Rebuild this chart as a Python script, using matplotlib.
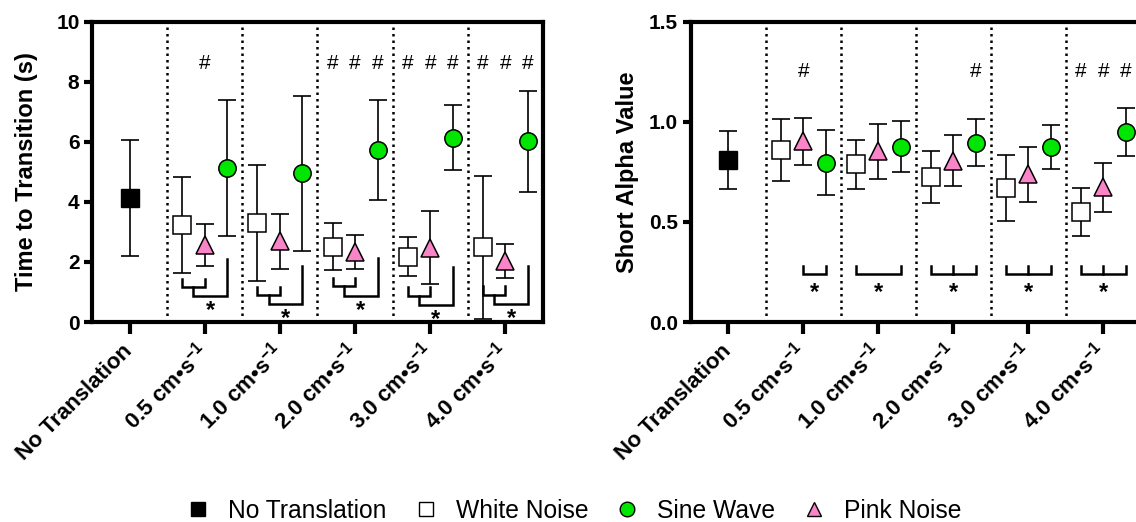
import numpy as np
import matplotlib
matplotlib.use('Agg')
import matplotlib.pyplot as plt
from matplotlib.lines import Line2D

plt.rcParams['font.family'] = ['Liberation Sans', 'DejaVu Sans']
plt.rcParams['mathtext.fontset'] = 'custom'
plt.rcParams['mathtext.rm'] = 'Liberation Sans:bold'
plt.rcParams['mathtext.it'] = 'Liberation Sans:bold:italic'
plt.rcParams['mathtext.bf'] = 'Liberation Sans:bold'

# x categories
speeds = ['0.5', '1.0', '2.0', '3.0', '4.0']
tick_labels = ['No Translation'] + [s + r' cm•s$^{-1}$' for s in speeds]
series_names = ['No Translation', 'White Noise', 'Sine Wave', 'Pink Noise']

# Time to transition (s), mean and SD
tt_none_mean, tt_none_sd = 4.13, 1.92
tt_white_mean = [3.23, 3.29, 2.51, 2.17, 2.49]
tt_white_sd = [1.59, 1.94, 0.78, 0.65, 2.38]
tt_pink_mean = [2.57, 2.69, 2.32, 2.48, 2.03]
tt_pink_sd = [0.71, 0.92, 0.57, 1.23, 0.56]
tt_sine_mean = [5.14, 4.95, 5.73, 6.14, 6.02]
tt_sine_sd = [2.26, 2.58, 1.67, 1.08, 1.68]

# Short alpha value, mean and SD
sa_none_mean, sa_none_sd = 0.809, 0.143
sa_white_mean = [0.861, 0.788, 0.724, 0.669, 0.550]
sa_white_sd = [0.155, 0.122, 0.128, 0.167, 0.118]
sa_pink_mean = [0.903, 0.852, 0.805, 0.738, 0.673]
sa_pink_sd = [0.117, 0.136, 0.127, 0.137, 0.122]
sa_sine_mean = [0.796, 0.876, 0.895, 0.872, 0.949]
sa_sine_sd = [0.163, 0.127, 0.118, 0.110, 0.122]

# significance marks (series index: 0 white, 1 pink, 2 sine)
tt_hash = [[1], [], [0, 1, 2], [0, 1, 2], [0, 1, 2]]
sa_hash = [[1], [], [2], [], [0, 1, 2]]
tt_hash_y, sa_hash_y = 8.64, 1.259
# left brackets: small top, small bottom, big bottom, big right top, star y
tt_brackets = [(1.44, 1.16, 0.85, 2.11, 0.61),
               (1.18, 0.89, 0.59, 1.86, 0.33),
               (1.47, 1.20, 0.86, 2.14, 0.61),
               (1.16, 0.86, 0.55, 1.83, 0.30),
               (1.20, 0.91, 0.59, 1.86, 0.33)]
# right brackets: from series, to series, middle tick
sa_brackets = [(1, 2, False), (0, 2, False), (0, 2, True), (0, 2, True), (0, 2, True)]
sa_br_top, sa_br_bot, sa_star_y = 0.279, 0.238, 0.183

offs = [-0.3, 0.0, 0.3]
pink = '#f984c8'
green = '#00e600'
ms = 12.5


def draw_panel(ax, none_m, none_sd, means, sds):
    ax.errorbar([0], [none_m], yerr=[none_sd], fmt='none', ecolor='k',
                elinewidth=1.2, capsize=6.5, capthick=1.2, zorder=2)
    ax.plot([0], [none_m], 's', ms=ms, mfc='k', mec='k', zorder=3)
    styles = [('s', 'white'), ('^', pink), ('o', green)]
    x = np.arange(1, 6)
    for (m, c), vals, err, off in zip(styles, means, sds, offs):
        ax.errorbar(x + off, vals, yerr=err, fmt='none', ecolor='k',
                    elinewidth=1.2, capsize=6.5, capthick=1.2, zorder=2)
        ax.plot(x + off, vals, m, ms=ms, mfc=c, mec='k', mew=1.1, ls='none', zorder=3)
    for b in np.arange(0.5, 5, 1):
        ax.axvline(b, color='k', ls=(0, (1, 1.6)), lw=1.8, zorder=1)
    ax.set_xlim(-0.5, 5.5)
    ax.set_xticks(range(6))
    ax.set_xticklabels(tick_labels, rotation=45, ha='right', va='center',
                       rotation_mode='anchor', fontsize=16, fontweight='bold')
    for s in ax.spines.values():
        s.set_linewidth(3)
    ax.tick_params(axis='x', length=8.5, width=3, pad=10)
    ax.tick_params(axis='y', length=6, width=3, pad=3, labelsize=15)
    for t in ax.get_yticklabels():
        t.set_fontweight('bold')


fig = plt.figure(figsize=(11.36, 5.22), dpi=100)
ax1 = fig.add_axes([92 / 1136, 200 / 522, 451 / 1136, 300.3 / 522])
ax2 = fig.add_axes([690.7 / 1136, 200 / 522, 450 / 1136, 300.3 / 522])

draw_panel(ax1, tt_none_mean, tt_none_sd,
           [tt_white_mean, tt_pink_mean, tt_sine_mean],
           [tt_white_sd, tt_pink_sd, tt_sine_sd])
ax1.set_ylim(0, 10)
ax1.set_yticks([0, 2, 4, 6, 8, 10])
ax1.set_yticklabels(['0', '2', '4', '6', '8', '10'], fontweight='bold', fontsize=15)
ax1.set_ylabel('Time to Transition (s)', fontsize=17, fontweight='bold', labelpad=13)

draw_panel(ax2, sa_none_mean, sa_none_sd,
           [sa_white_mean, sa_pink_mean, sa_sine_mean],
           [sa_white_sd, sa_pink_sd, sa_sine_sd])
ax2.set_ylim(0, 1.5)
ax2.set_yticks([0, 0.5, 1.0, 1.5])
ax2.set_yticklabels(['0.0', '0.5', '1.0', '1.5'], fontweight='bold', fontsize=15)
ax2.set_ylabel('Short Alpha Value', fontsize=17, fontweight='bold', labelpad=7)

# hash marks
for ax, hashes, hy in [(ax1, tt_hash, tt_hash_y), (ax2, sa_hash, sa_hash_y)]:
    for i, idx in enumerate(hashes):
        for j in idx:
            ax.annotate('#', (i + 1 + offs[j], hy), xytext=(0, -5), textcoords='offset points',
                        ha='center', va='baseline', fontsize=15)

# brackets, left panel
lw_b = 1.8
for i, (st, sb, bb, bt, sy) in enumerate(tt_brackets):
    c = i + 1
    xa, xb, xc = c + offs[0], c + offs[1], c + offs[2]
    xm = (xa + xb) / 2
    ax1.plot([xa, xa, xb, xb], [st, sb, sb, st], color='k', lw=lw_b, solid_joinstyle='miter')
    ax1.plot([xm, xm, xc, xc], [sb, bb, bb, bt], color='k', lw=lw_b, solid_joinstyle='miter')
    ax1.annotate('*', ((xm + xc) / 2, sy), xytext=(0, -9.5), textcoords='offset points',
                 ha='center', va='baseline', fontsize=17, fontweight='bold')

# brackets, right panel
for i, (a, b, mid) in enumerate(sa_brackets):
    c = i + 1
    xa, xb = c + offs[a], c + offs[b]
    ax2.plot([xa, xa, xb, xb], [sa_br_top, sa_br_bot, sa_br_bot, sa_br_top],
             color='k', lw=lw_b, solid_joinstyle='miter')
    if mid:
        ax2.plot([c, c], [sa_br_top, sa_br_bot], color='k', lw=lw_b)
    ax2.annotate('*', ((xa + xb) / 2, sa_star_y), xytext=(0, -9.5), textcoords='offset points',
                 ha='center', va='baseline', fontsize=17, fontweight='bold')

handles = [
    Line2D([], [], marker='s', ls='none', ms=10.5, mfc='k', mec='k'),
    Line2D([], [], marker='s', ls='none', ms=10.5, mfc='white', mec='k', mew=1),
    Line2D([], [], marker='o', ls='none', ms=10.5, mfc=green, mec='k', mew=1),
    Line2D([], [], marker='^', ls='none', ms=10.5, mfc=pink, mec='k', mew=1),
]
fig.legend(handles, series_names, loc='center', bbox_to_anchor=(0.505, 0.022), ncol=4,
           frameon=False, fontsize=17.7, handlelength=1.0, handletextpad=0.72,
           columnspacing=1.08)

fig.savefig('out.png', dpi=100)
